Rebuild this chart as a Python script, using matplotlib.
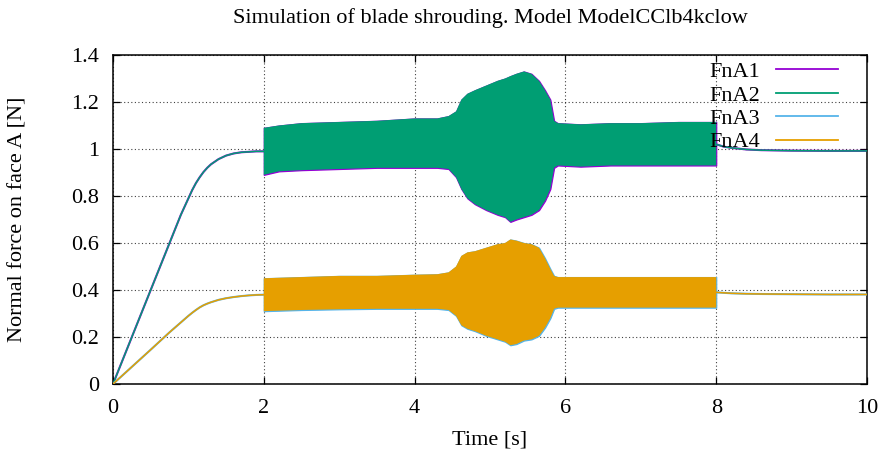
import matplotlib
matplotlib.use("Agg")
import matplotlib.pyplot as plt
from matplotlib.lines import Line2D
from matplotlib.ticker import FuncFormatter

plt.rcParams["font.family"] = ["Liberation Serif", "DejaVu Serif"]

# ---- start-up ramp (0 .. 2 s) ----
ramp_t = [0.0, 0.25, 0.5, 0.75, 0.9, 1.0, 1.05, 1.1, 1.15, 1.2, 1.25, 1.3,
          1.4, 1.5, 1.6, 1.7, 1.8, 1.9, 2.0]
ramp_upper_pair = [0.0, 0.2, 0.4, 0.6, 0.72, 0.79, 0.825, 0.855, 0.88, 0.902,
                   0.92, 0.935, 0.957, 0.972, 0.981, 0.986, 0.988, 0.99, 0.99]
ramp_lower_pair = [0.0, 0.073, 0.146, 0.22, 0.262, 0.29, 0.303, 0.315, 0.326,
                   0.335, 0.342, 0.348, 0.358, 0.365, 0.37, 0.374, 0.377,
                   0.379, 0.38]

# ---- oscillating phase (2 .. 8 s): envelope of the fast oscillation ----
band_t = [2.0, 2.2, 2.5, 3.0, 3.5, 4.0, 4.3, 4.45, 4.55, 4.62, 4.7, 4.8, 4.95,
          5.1, 5.2, 5.27, 5.35, 5.45, 5.55, 5.65, 5.73, 5.8, 5.85, 5.9, 6.2,
          6.6, 7.0, 7.5, 8.0]
fn12_max = [1.09, 1.10, 1.11, 1.115, 1.12, 1.13, 1.13, 1.14, 1.16, 1.21, 1.235,
            1.25, 1.27, 1.29, 1.30, 1.31, 1.32, 1.33, 1.32, 1.29, 1.25, 1.21,
            1.12, 1.11, 1.105, 1.11, 1.11, 1.115, 1.115]
fn12_min = [0.89, 0.905, 0.91, 0.915, 0.92, 0.92, 0.92, 0.915, 0.88, 0.83, 0.79,
            0.765, 0.74, 0.72, 0.71, 0.69, 0.70, 0.71, 0.72, 0.74, 0.78, 0.83,
            0.92, 0.93, 0.925, 0.93, 0.93, 0.93, 0.93]
fn34_max = [0.45, 0.452, 0.455, 0.46, 0.46, 0.465, 0.467, 0.475, 0.50, 0.545,
            0.56, 0.565, 0.58, 0.595, 0.60, 0.615, 0.61, 0.60, 0.595, 0.58,
            0.535, 0.49, 0.46, 0.455, 0.455, 0.455, 0.455, 0.455, 0.455]
fn34_min = [0.31, 0.312, 0.315, 0.318, 0.32, 0.32, 0.32, 0.315, 0.29, 0.25,
            0.235, 0.225, 0.205, 0.19, 0.18, 0.165, 0.17, 0.185, 0.19, 0.205,
            0.24, 0.28, 0.32, 0.325, 0.325, 0.325, 0.325, 0.325, 0.325]

# ---- settling after the excitation stops (8 .. 10 s) ----
tail_t = [8.0, 8.1, 8.2, 8.4, 8.6, 9.0, 9.5, 10.0]
tail_upper_pair = [1.02, 1.01, 1.005, 0.998, 0.995, 0.993, 0.992, 0.992]
tail_lower_pair = [0.39, 0.388, 0.386, 0.384, 0.383, 0.382, 0.381, 0.381]

series_names = ["FnA1", "FnA2", "FnA3", "FnA4"]
series_colors = ["#9400d3", "#009e73", "#56b4e9", "#e69f00"]

x_ticks = [0, 2, 4, 6, 8, 10]
y_ticks = [0, 0.2, 0.4, 0.6, 0.8, 1.0, 1.2, 1.4]

title_text = "Simulation of blade shrouding. Model ModelCClb4kclow"
x_label = "Time [s]"
y_label = "Normal force on face A [N]"

FS = 16

fig = plt.figure(figsize=(8.81, 4.57), dpi=100)
ax = fig.add_axes([113 / 881, 1 - 384 / 457, 754 / 881, 329 / 457])

pairs = [
    (0, ramp_upper_pair, fn12_max, fn12_min, tail_upper_pair),
    (1, ramp_upper_pair, fn12_max, fn12_min, tail_upper_pair),
    (2, ramp_lower_pair, fn34_max, fn34_min, tail_lower_pair),
    (3, ramp_lower_pair, fn34_max, fn34_min, tail_lower_pair),
]
for idx, ramp, hi, lo, tail in pairs:
    c = series_colors[idx]
    under = idx in (0, 2)
    lw = 1.5 if under else 1.1
    z = 2 + idx
    ax.plot(ramp_t, ramp, color=c, lw=lw, zorder=z)
    ax.plot(tail_t, tail, color=c, lw=lw, zorder=z)
    ax.fill_between(band_t, lo, hi, facecolor=c,
                    edgecolor=c if under else "none",
                    linewidth=0.9 if under else 0, zorder=z)

ax.set_xlim(0, 10)
ax.set_ylim(0, 1.4)
ax.set_xticks(x_ticks)
ax.set_yticks(y_ticks)
ax.yaxis.set_major_formatter(FuncFormatter(lambda v, p: f"{v:g}"))
ax.xaxis.set_major_formatter(FuncFormatter(lambda v, p: f"{v:g}"))
ax.tick_params(direction="in", top=True, right=True, length=5, width=0.9,
               labelsize=FS)
ax.tick_params(axis="x", pad=11)
ax.tick_params(axis="y", pad=10)
ax.set_axisbelow(True)
ax.grid(True, color="black", linestyle=(0, (1, 2.2)), linewidth=0.8, alpha=0.75)
for s in ax.spines.values():
    s.set_linewidth(1.1)

ax.set_xlabel(x_label, fontsize=FS, va="center")
ax.xaxis.set_label_coords(0.5, -(440 - 384) / 329)
ax.set_ylabel(y_label, fontsize=FS, va="center")
ax.yaxis.set_label_coords(-(113 - 18) / 754, 0.5)

fig.text(490 / 881, 1 - 18 / 457, title_text, fontsize=FS, ha="center", va="center")

handles = [Line2D([], [], color=c, lw=1.3) for c in series_colors]
ax.legend(handles, series_names, loc="upper left",
          bbox_to_anchor=((709 - 113) / 754, 0.98), frameon=False,
          markerfirst=False, fontsize=16, handlelength=2.75,
          handletextpad=0.75, labelspacing=0.13, borderpad=0, borderaxespad=0)

fig.savefig("out.png", dpi=100)
